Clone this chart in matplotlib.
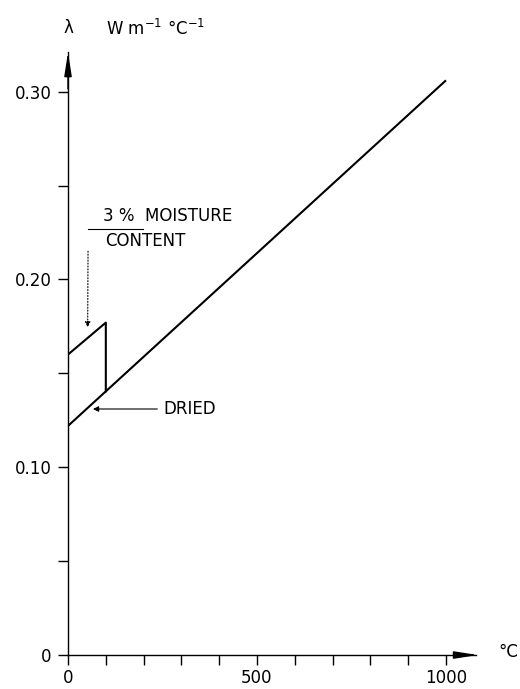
import matplotlib.pyplot as plt

# temperature (deg C) and conductivity values
dried_t = [0, 1000]
dried_lam = [0.122, 0.306]
moist_t = [0, 100, 100]
moist_lam = [0.160, 0.177, 0.1404]

x_ticks = list(range(0, 1001, 100))
x_labels = ['0', '500', '1000']
y_ticks = [0.0, 0.10, 0.20, 0.30]
y_minor = [0.05, 0.15, 0.25]
y_labels = ['0', '0.10', '0.20', '0.30']

plt.rcParams['font.family'] = ['DejaVu Sans']
fig = plt.figure(figsize=(5.2, 6.89), dpi=100)
ax = fig.add_axes([0.1308, 0.0493, 0.785, 0.875])
ax.set_xlim(0, 1080)
ax.set_ylim(0, 0.321)

for s in ['top', 'right']:
    ax.spines[s].set_visible(False)
for s in ['left', 'bottom']:
    ax.spines[s].set_linewidth(1.0)

ax.plot(dried_t, dried_lam, color='black', lw=1.5, solid_capstyle='butt')
ax.plot(moist_t, moist_lam, color='black', lw=1.5)

# axis arrows
head = '-|>,head_length=0.9,head_width=0.14'
ax.annotate('', xy=(1092, 0), xytext=(1040, 0), annotation_clip=False,
            arrowprops=dict(arrowstyle=head, color='black', lw=1, mutation_scale=16))
ax.annotate('', xy=(0, 0.3225), xytext=(0, 0.300), annotation_clip=False,
            arrowprops=dict(arrowstyle=head, color='black', lw=1, mutation_scale=16))

ax.set_xticks(x_ticks)
ax.set_xticklabels([str(t) if str(t) in x_labels else '' for t in x_ticks])
ax.set_yticks(y_ticks + y_minor)
ax.set_yticklabels(y_labels + ['', '', ''])
ax.tick_params(direction='out', length=7, width=1, labelsize=12, color='black')
ax.tick_params(axis='x', pad=3)
ax.tick_params(axis='y', pad=5)

fig.text(68 / 520, 1 - 28 / 689, '\u03bb', fontsize=12, ha='center', va='center')
fig.text(106 / 520, 1 - 35 / 689, 'W m$^{-1}$ \u00b0C$^{-1}$', fontsize=12,
         ha='left', va='baseline')
fig.text(498 / 520, 1 - 652 / 689, '\u00b0C', fontsize=12, ha='left', va='center')

# moisture annotation
ax.text(93, 0.2335, '3 %  MOISTURE', fontsize=12, ha='left', va='center')
ax.text(98, 0.2205, 'CONTENT', fontsize=12, ha='left', va='center')
ax.plot([53, 198], [0.2271, 0.2271], color='black', lw=0.8)
ax.annotate('', xy=(52, 0.173), xytext=(53, 0.2165),
            arrowprops=dict(arrowstyle='-|>', color='black', lw=0.8, ls=':',
                            mutation_scale=8))

# dried annotation
ax.annotate('DRIED', xy=(66, 0.131), xytext=(251, 0.131), fontsize=12,
            va='center', ha='left',
            arrowprops=dict(arrowstyle='-|>', color='black', lw=0.8,
                            mutation_scale=8, shrinkB=0, shrinkA=2))

fig.savefig('out.png', dpi=100)
